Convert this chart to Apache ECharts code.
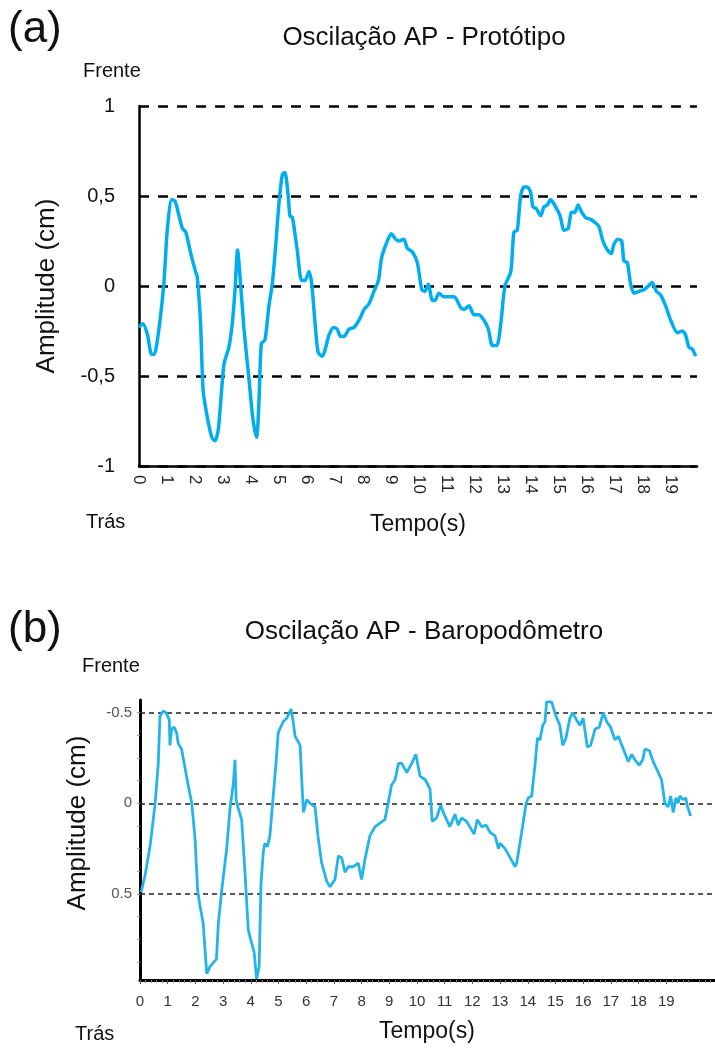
<!DOCTYPE html>
<html>
<head>
<meta charset="utf-8">
<script src="https://cdn.jsdelivr.net/npm/echarts@6/dist/echarts.min.js"></script>
<style>
  html, body { margin: 0; padding: 0; background: #fff; }
  #chart { width: 715px; height: 1050px; }
</style>
</head>
<body>
<div id="chart"></div>
<script>
// (a) Prototype: anteroposterior sway, time in seconds / amplitude in cm
const timeA = [0, 0.14, 0.3, 0.45, 0.54, 0.71, 0.89, 1.01, 1.17, 1.29, 1.43, 1.55, 1.67, 1.85, 2.02, 2.08, 2.2, 2.29, 2.44, 2.6,
  2.71, 2.83, 2.95, 3.04, 3.21, 3.33, 3.43, 3.52, 3.61, 3.75, 3.93, 4.07, 4.2, 4.29, 4.37, 4.5, 4.64, 4.76, 4.88, 5.0,
  5.12, 5.21, 5.33, 5.39, 5.48, 5.65, 5.81, 5.93, 6.07, 6.17, 6.29, 6.4, 6.55, 6.67, 6.79, 6.96, 7.08, 7.2, 7.32, 7.5,
  7.68, 7.86, 8.04, 8.21, 8.39, 8.55, 8.67, 8.87, 9.01, 9.17, 9.29, 9.46, 9.58, 9.76, 9.94, 10.1, 10.21, 10.33, 10.48, 10.57,
  10.71, 10.89, 11.25, 11.49, 11.61, 11.79, 11.96, 12.14, 12.32, 12.48, 12.62, 12.78, 12.92, 13.07, 13.28, 13.39, 13.51, 13.63, 13.75, 13.87,
  13.99, 14.07, 14.19, 14.35, 14.46, 14.58, 14.7, 14.88, 15.04, 15.18, 15.33, 15.45, 15.57, 15.68, 15.81, 15.95, 16.13, 16.31, 16.43, 16.57,
  16.73, 16.87, 16.96, 17.11, 17.24, 17.32, 17.44, 17.56, 17.68, 17.86, 18.04, 18.19, 18.33, 18.48, 18.63, 18.81, 18.99, 19.23, 19.4, 19.52,
  19.64, 19.76, 19.88];
const ampA = [-0.23, -0.21, -0.27, -0.38, -0.38, -0.24, 0.02, 0.31, 0.48, 0.47, 0.39, 0.32, 0.30, 0.18, 0.08, 0.05, -0.21, -0.58, -0.73, -0.84,
  -0.86, -0.80, -0.58, -0.43, -0.34, -0.21, -0.02, 0.20, 0.05, -0.24, -0.52, -0.74, -0.84, -0.62, -0.32, -0.30, -0.11, 0.01, 0.22, 0.46,
  0.62, 0.63, 0.50, 0.39, 0.38, 0.20, 0.03, 0.03, 0.08, 0.01, -0.21, -0.37, -0.39, -0.34, -0.27, -0.23, -0.24, -0.28, -0.28, -0.24,
  -0.23, -0.19, -0.13, -0.10, -0.03, 0.03, 0.16, 0.25, 0.29, 0.26, 0.25, 0.26, 0.21, 0.19, 0.13, -0.02, -0.03, 0.01, -0.08, -0.08,
  -0.04, -0.06, -0.06, -0.12, -0.13, -0.11, -0.16, -0.16, -0.19, -0.24, -0.33, -0.33, -0.21, 0.0, 0.08, 0.30, 0.31, 0.50, 0.55, 0.55,
  0.52, 0.44, 0.43, 0.39, 0.44, 0.45, 0.48, 0.44, 0.39, 0.31, 0.32, 0.41, 0.41, 0.45, 0.41, 0.38, 0.37, 0.35, 0.33, 0.25,
  0.20, 0.18, 0.23, 0.26, 0.25, 0.14, 0.13, 0.01, -0.04, -0.03, -0.02, 0.0, 0.02, -0.03, -0.05, -0.11, -0.19, -0.26, -0.25, -0.27,
  -0.34, -0.35, -0.39];

// (b) Baropodometer: same trial, amplitude axis drawn inverted
const timeB = [0.04, 0.18, 0.36, 0.54, 0.66, 0.72, 0.84, 0.94, 1.06, 1.08, 1.14, 1.23, 1.32, 1.38, 1.5, 1.62, 1.74, 1.87, 1.99, 2.08,
  2.17, 2.28, 2.41, 2.53, 2.76, 2.83, 2.95, 3.13, 3.25, 3.37, 3.43, 3.47, 3.55, 3.67, 3.79, 3.91, 4.03, 4.12, 4.21, 4.3,
  4.37, 4.45, 4.51, 4.6, 4.69, 4.81, 4.91, 4.99, 5.17, 5.3, 5.45, 5.53, 5.6, 5.78, 5.84, 5.9, 6.02, 6.14, 6.32, 6.44,
  6.56, 6.74, 6.86, 7.04, 7.16, 7.28, 7.4, 7.52, 7.7, 7.88, 8.0, 8.12, 8.3, 8.48, 8.66, 8.84, 8.96, 9.08, 9.21, 9.33,
  9.45, 9.63, 9.81, 9.96, 10.11, 10.3, 10.47, 10.55, 10.71, 10.86, 10.95, 11.19, 11.37, 11.49, 11.61, 11.79, 11.91, 12.06, 12.18, 12.34,
  12.49, 12.64, 12.82, 12.94, 13.0, 13.18, 13.36, 13.54, 13.6, 13.78, 13.94, 14.02, 14.14, 14.26, 14.35, 14.44, 14.54, 14.62, 14.68, 14.86,
  15.02, 15.16, 15.26, 15.38, 15.52, 15.62, 15.76, 15.88, 16.0, 16.15, 16.27, 16.43, 16.58, 16.73, 16.85, 16.99, 17.15, 17.27, 17.45, 17.63,
  17.75, 17.87, 18.03, 18.15, 18.23, 18.39, 18.53, 18.71, 18.83, 18.95, 19.07, 19.16, 19.25, 19.35, 19.43, 19.49, 19.61, 19.71, 19.75, 19.88];
const ampB = [0.49, 0.40, 0.24, 0.01, -0.22, -0.48, -0.51, -0.50, -0.46, -0.32, -0.41, -0.42, -0.39, -0.33, -0.30, -0.20, -0.10, 0.0, 0.20, 0.48,
  0.57, 0.66, 0.94, 0.90, 0.86, 0.66, 0.48, 0.25, 0.03, -0.11, -0.24, -0.02, 0.03, 0.09, 0.38, 0.70, 0.77, 0.82, 0.97, 0.90,
  0.44, 0.27, 0.22, 0.24, 0.18, -0.04, -0.22, -0.39, -0.45, -0.47, -0.52, -0.45, -0.37, -0.32, -0.13, 0.05, -0.02, 0.0, 0.02, 0.20,
  0.33, 0.43, 0.46, 0.42, 0.29, 0.30, 0.38, 0.35, 0.35, 0.33, 0.42, 0.31, 0.18, 0.13, 0.11, 0.09, 0.0, -0.10, -0.13, -0.22,
  -0.22, -0.17, -0.22, -0.27, -0.15, -0.13, -0.08, 0.10, 0.08, 0.01, 0.05, 0.13, 0.06, 0.12, 0.08, 0.10, 0.13, 0.17, 0.09, 0.13,
  0.12, 0.16, 0.18, 0.25, 0.22, 0.25, 0.30, 0.35, 0.33, 0.16, 0.0, -0.03, -0.04, -0.21, -0.36, -0.35, -0.43, -0.45, -0.56, -0.56,
  -0.48, -0.43, -0.32, -0.36, -0.47, -0.50, -0.46, -0.43, -0.47, -0.31, -0.32, -0.41, -0.42, -0.50, -0.45, -0.42, -0.35, -0.37, -0.30, -0.23,
  -0.27, -0.24, -0.21, -0.24, -0.30, -0.29, -0.23, -0.17, -0.13, 0.0, 0.02, -0.04, 0.05, -0.03, 0.0, -0.04, -0.02, -0.03, 0.01, 0.07];

// tick values
const secondTicks = [0, 1, 2, 3, 4, 5, 6, 7, 8, 9, 10, 11, 12, 13, 14, 15, 16, 17, 18, 19];
const levelsB = [-0.5, 0, 0.5];
const minorTicksB = [-0.5, -0.375, -0.25, -0.125, 0, 0.125, 0.25, 0.375, 0.5, 0.625, 0.75, 0.875];

const FONT = '"Liberation Sans", Arial, Helvetica, sans-serif';
const zip = (xs, ys) => xs.map((x, i) => [x, ys[i]]);

const chart = echarts.init(document.getElementById('chart'), null, { renderer: 'canvas' });

function txt(text, x, y, size, opts) {
  return Object.assign({
    type: 'text', x: x, y: y, silent: true,
    style: Object.assign({ text: text, font: size + 'px ' + FONT, fill: '#111',
      textAlign: 'left', textVerticalAlign: 'middle' }, opts && opts.style)
  }, opts && opts.el);
}

chart.setOption({
  animation: false,
  backgroundColor: '#fff',
  textStyle: { fontFamily: FONT },
  graphic: [
    txt('(a)', 8, 30, 44),
    txt('Oscilação AP - Protótipo', 424, 38, 26, { style: { textAlign: 'center' } }),
    txt('Frente', 83, 71, 20),
    txt('Trás', 86, 522, 20),
    txt('Tempo(s)', 418, 525, 23, { style: { textAlign: 'center' } }),
    txt('Amplitude (cm)', 47, 286, 26, { style: { textAlign: 'center' }, el: { rotation: Math.PI / 2 } }),

    txt('(b)', 8, 630, 44),
    txt('Oscilação AP - Baropodômetro', 424, 632, 26, { style: { textAlign: 'center' } }),
    txt('Frente', 82, 666, 20),
    txt('Trás', 75, 1034, 20),
    txt('Tempo(s)', 427, 1032, 23, { style: { textAlign: 'center' } }),
    txt('Amplitude (cm)', 78, 823, 26, { style: { textAlign: 'center' }, el: { rotation: Math.PI / 2 } })
  ],
  grid: [
    { left: 139, top: 106, right: 18, bottom: 584, containLabel: false },
    { left: 140, top: 700, right: 0, bottom: 70, containLabel: false }
  ],
  xAxis: [
    {
      gridIndex: 0, type: 'value', min: 0, max: 19.93, interval: 1,
      axisLine: { show: true, onZero: false, lineStyle: { color: '#000', width: 2.5 } },
      axisTick: { show: false },
      splitLine: { show: false },
      axisLabel: {
        customValues: secondTicks, rotate: -90, margin: 9,
        fontSize: 17, color: '#222', fontFamily: FONT
      }
    },
    {
      gridIndex: 1, type: 'value', min: 0, max: 20.76, interval: 1,
      axisLine: { show: true, onZero: false, lineStyle: { color: '#000', width: 3 } },
      axisTick: { show: true, customValues: secondTicks, length: 4, lineStyle: { color: '#555', width: 1 } },
      minorTick: { show: true, splitNumber: 5, length: 3, lineStyle: { color: '#888', width: 1 } },
      splitLine: { show: false },
      axisLabel: { customValues: secondTicks, margin: 14, fontSize: 15, color: '#333', fontFamily: FONT }
    }
  ],
  yAxis: [
    {
      gridIndex: 0, type: 'value', min: -1, max: 1, interval: 0.5,
      axisLine: { show: true, lineStyle: { color: '#000', width: 2.5 } },
      axisTick: { show: false },
      splitLine: { show: true, lineStyle: { color: '#000', width: 2.5, type: [10, 9] } },
      axisLabel: {
        margin: 24, fontSize: 20, color: '#111', fontFamily: FONT,
        formatter: v => String(v).replace('.', ',')
      }
    },
    {
      gridIndex: 1, type: 'value', inverse: true, min: -0.57, max: 0.975,
      axisLine: { show: true, onZero: false, lineStyle: { color: '#000', width: 3 } },
      axisTick: { show: true, customValues: minorTicksB, length: 3, lineStyle: { color: '#999', width: 1 } },
      splitLine: { show: false },
      axisLabel: { customValues: levelsB, margin: 8, fontSize: 15, color: '#555', fontFamily: FONT }
    }
  ],
  series: [
    {
      type: 'line', xAxisIndex: 0, yAxisIndex: 0,
      data: zip(timeA, ampA), showSymbol: false, smooth: 0.25,
      lineStyle: { color: '#00AEEF', width: 3.5 }, z: 3
    },
    {
      type: 'line', xAxisIndex: 1, yAxisIndex: 1,
      data: zip(timeB, ampB), showSymbol: false, smooth: false,
      lineStyle: { color: '#25B4E8', width: 2.8 }, z: 3,
      markLine: {
        silent: true, symbol: 'none', label: { show: false }, z: 1,
        lineStyle: { color: '#222', width: 1.5, type: [5, 4] },
        data: levelsB.map(v => ({ yAxis: v }))
      }
    }
  ]
});
</script>
</body>
</html>
